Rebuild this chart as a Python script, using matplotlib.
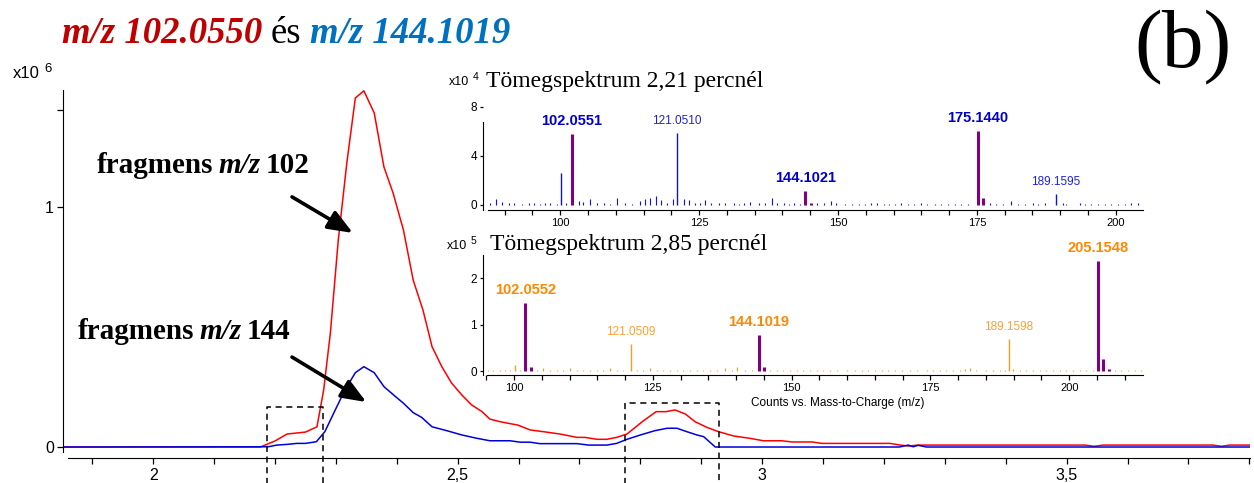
import numpy as np
import matplotlib.pyplot as plt
from matplotlib.ticker import FixedLocator

SANS = ['Liberation Sans', 'DejaVu Sans']
NARROW = ['Liberation Sans Narrow', 'Liberation Sans', 'DejaVu Sans']
SERIF = ['Liberation Serif', 'DejaVu Serif']
plt.rcParams['font.family'] = SANS

#* EIC traces, retention time (min) vs counts (x10^6)
rt_102 = [1.852, 2.176, 2.200, 2.220, 2.250, 2.269, 2.280, 2.291, 2.304, 2.318, 2.332, 2.346,
          2.363, 2.379, 2.394, 2.411, 2.427, 2.443, 2.458, 2.474, 2.490, 2.507, 2.523, 2.540,
          2.553, 2.570, 2.599, 2.619, 2.640, 2.668, 2.696, 2.709, 2.729, 2.745, 2.761, 2.778,
          2.805, 2.826, 2.842, 2.857, 2.874, 2.890, 2.909, 2.928, 2.953, 2.980, 3.002, 3.032,
          3.049, 3.082, 3.098, 3.210, 3.227, 3.240, 3.256, 3.530, 3.545, 3.560, 3.740, 3.754,
          3.768, 3.801]
eic_102 = [0, 0, 0.025, 0.054, 0.062, 0.084, 0.237, 0.474, 0.861, 1.181, 1.451, 1.481,
           1.389, 1.164, 1.056, 0.902, 0.694, 0.570, 0.417, 0.334, 0.266, 0.216, 0.175, 0.147,
           0.116, 0.105, 0.091, 0.071, 0.064, 0.054, 0.040, 0.040, 0.032, 0.032, 0.040, 0.054,
           0.109, 0.147, 0.147, 0.154, 0.137, 0.105, 0.082, 0.064, 0.046, 0.036, 0.026, 0.026,
           0.021, 0.021, 0.015, 0.015, 0.008, 0.004, 0.008, 0.008, 0.003, 0.008, 0.008, 0.003,
           0.008, 0.008]

rt_144 = [1.852, 2.189, 2.203, 2.220, 2.236, 2.250, 2.268, 2.282, 2.299, 2.315, 2.332, 2.346,
          2.363, 2.379, 2.395, 2.411, 2.427, 2.441, 2.458, 2.482, 2.507, 2.532, 2.553, 2.586,
          2.603, 2.619, 2.635, 2.696, 2.715, 2.745, 2.761, 2.778, 2.800, 2.824, 2.844, 2.860,
          2.876, 2.893, 2.904, 2.923, 3.225, 3.240, 3.248, 3.256, 3.270, 3.801]
eic_144 = [0, 0.001, 0.008, 0.011, 0.015, 0.015, 0.022, 0.064, 0.154, 0.237, 0.309, 0.334,
           0.309, 0.251, 0.216, 0.182, 0.143, 0.123, 0.084, 0.068, 0.050, 0.036, 0.026, 0.026,
           0.020, 0.020, 0.014, 0.014, 0.008, 0.008, 0.015, 0.032, 0.050, 0.068, 0.078, 0.078,
           0.064, 0.050, 0.043, 0.0, 0.0, 0.008, 0.001, 0.007, 0.0, 0.0]

rt_ticks = [2, 2.5, 3, 3.5]
rt_labels = ['2', '2,5', '3', '3,5']

#* time windows of the two spectra: (start, end, box height)
windows = [(2.187, 2.279, 0.166), (2.775, 2.929, 0.183)]

#* spectrum at 2,21 min (counts x10^4)
ms1_peak_mz = [100.07, 121.0510, 189.1595]
ms1_peak_h = [2.6, 5.9, 0.9]
ms1_frag_mz = [102.0551, 144.1021, 145.105, 175.1440, 176.147]
ms1_frag_h = [5.8, 1.15, 0.2, 6.05, 0.55]
ms1_noise_mz = [87.3, 88.5, 89.5, 90.7, 91.7, 93.1, 94.3, 95.2, 96.3, 97.3, 98.2, 99.4, 101.1,
                103.3, 104.1, 105.4, 106.6, 107.8, 109.0, 110.2, 111.7, 112.9, 114.3, 115.2,
                116.1, 117.3, 118.2, 119.3, 120.3, 122.2, 123.1, 124.3, 125.2, 126.1, 127.1,
                128.5, 129.7, 131.2, 132.1, 133.0, 134.2, 135.7, 136.9, 138.1, 139.0, 140.2,
                141.1, 142.0, 143.2, 146.2, 147.4, 148.7, 149.6, 151.3, 152.5, 153.7, 154.9,
                156.0, 157.0, 158.2, 159.1, 160.2, 161.4, 162.6, 163.7, 164.9, 166.1, 167.4,
                168.6, 169.8, 171.0, 172.2, 173.4, 177.3, 178.5, 179.7, 181.2, 182.4, 183.6,
                185.1, 186.0, 187.2, 190.5, 191.1, 193.5, 194.4, 195.6, 196.8, 198.0, 199.2,
                200.4, 201.6, 202.8, 204.0]
ms1_noise_h = [0.2, 0.45, 0.25, 0.15, 0.2, 0.1, 0.15, 0.15, 0.1, 0.15, 0.15, 0.1, 0.15,
               0.35, 0.25, 0.45, 0.2, 0.15, 0.1, 0.55, 0.15, 0.1, 0.3, 0.45,
               0.55, 0.75, 0.4, 0.15, 0.5, 0.45, 0.4, 0.15, 0.2, 0.4, 0.2,
               0.15, 0.15, 0.2, 0.1, 0.15, 0.25, 0.15, 0.15, 0.55, 0.15, 0.2,
               0.1, 0.15, 0.1, 0.2, 0.15, 0.3, 0.15, 0.1, 0.1, 0.1, 0.1,
               0.15, 0.15, 0.1, 0.1, 0.1, 0.15, 0.1, 0.1, 0.15, 0.1, 0.1,
               0.1, 0.1, 0.1, 0.1, 0.1, 0.15, 0.1, 0.1, 0.3, 0.1, 0.1,
               0.15, 0.1, 0.2, 0.2, 0.1, 0.15, 0.1, 0.1, 0.1, 0.1, 0.1,
               0.1, 0.1, 0.15, 0.15]
ms1_labels = [(102.0551, 5.8, '102.0551', True), (121.0510, 5.9, '121.0510', False),
              (144.1021, 1.15, '144.1021', True), (175.1440, 6.05, '175.1440', True),
              (189.1595, 0.9, '189.1595', False)]

#* spectrum at 2,85 min (counts x10^5)
ms2_peak_mz = [100.2, 121.0509, 189.1598]
ms2_peak_h = [0.13, 0.58, 0.69]
ms2_frag_mz = [102.0552, 103.058, 144.1019, 145.105, 205.1548, 206.158, 207.16]
ms2_frag_h = [1.46, 0.09, 0.77, 0.09, 2.37, 0.25, 0.04]
ms2_noise_mz = [95.4, 96.3, 97.4, 98.4, 99.3, 101.1, 104.1, 105.3, 106.5, 107.7, 108.9, 110.1,
                111.3, 112.5, 113.7, 114.9, 116.1, 117.3, 118.5, 119.7, 122.1, 123.3, 124.5,
                125.7, 126.9, 128.1, 129.3, 130.5, 131.7, 132.9, 134.1, 135.3, 136.5, 138.0,
                139.2, 140.2, 141.6, 142.8, 146.1, 147.3, 148.5, 149.7, 150.9, 152.1, 153.3,
                154.6, 155.7, 156.9, 158.1, 159.9, 161.4, 162.6, 163.8, 165.0, 166.2, 167.4,
                168.6, 169.8, 171.3, 172.5, 174.3, 175.5, 176.7, 177.9, 179.1, 180.3, 181.2,
                182.1, 183.3, 185.1, 186.3, 187.5, 188.4, 189.9, 191.1, 192.3, 193.5, 194.7,
                195.9, 197.1, 198.3, 199.5, 200.7, 201.9, 203.1, 204.3, 208.2, 209.4, 210.6,
                211.8, 213.0]
ms2_noise_h = [0.02, 0.02, 0.02, 0.03, 0.02, 0.02, 0.03, 0.06, 0.02, 0.02, 0.02, 0.06,
               0.02, 0.02, 0.02, 0.02, 0.02, 0.06, 0.02, 0.02, 0.02, 0.02, 0.06,
               0.02, 0.02, 0.02, 0.02, 0.02, 0.02, 0.02, 0.02, 0.02, 0.02, 0.07,
               0.02, 0.09, 0.02, 0.02, 0.02, 0.02, 0.02, 0.03, 0.02, 0.02, 0.02,
               0.02, 0.02, 0.02, 0.02, 0.02, 0.02, 0.02, 0.02, 0.02, 0.02, 0.02,
               0.02, 0.02, 0.02, 0.02, 0.02, 0.02, 0.02, 0.02, 0.02, 0.02, 0.04,
               0.07, 0.02, 0.02, 0.02, 0.02, 0.02, 0.05, 0.02, 0.02, 0.02, 0.02,
               0.02, 0.02, 0.02, 0.02, 0.02, 0.02, 0.02, 0.02, 0.02, 0.02, 0.02,
               0.02, 0.02]
ms2_labels = [(102.0552, 1.46, '102.0552', True), (121.0509, 0.58, '121.0509', False),
              (144.1019, 0.77, '144.1019', True), (189.1598, 0.69, '189.1598', False),
              (205.1548, 2.37, '205.1548', True)]

W, H = 1254, 483
fig = plt.figure(figsize=(W / 100, H / 100), dpi=100)
renderer = fig.canvas.get_renderer()


def px_axes(x0, y0, x1, y1):
    #* axes placed by pixel box (top-left origin)
    ax = fig.add_axes([x0 / W, 1 - y1 / H, (x1 - x0) / W, (y1 - y0) / H])
    ax.patch.set_alpha(0)
    ax.spines['top'].set_visible(False)
    ax.spines['right'].set_visible(False)
    return ax


def text_run(x, y, parts, size):
    #* consecutive text pieces on one baseline, x/y in pixels
    for s, color, weight, style, gap in parts:
        t = fig.text(x / W, 1 - y / H, s, color=color, fontsize=size, fontweight=weight,
                     fontstyle=style, family=SERIF, va='baseline', ha='left')
        x = t.get_window_extent(renderer).x1 + gap


# main EIC plot
ax = px_axes(63, 90, 1250, 458)
ax.plot(rt_102, eic_102, color='#ff0000', lw=1.1)
ax.plot(rt_144, eic_144, color='#0000dd', lw=1.1)
ax.set_xlim(1.852, 3.801)
ax.set_ylim(-0.0457, 1.4844)
ax.spines['left'].set_bounds(-0.02, 1.4844)
ax.spines['bottom'].set_bounds(1.860, 3.801)
ax.set_xticks(rt_ticks, rt_labels)
ax.xaxis.set_minor_locator(FixedLocator(np.arange(1.9, 3.81, 0.1)))
ax.tick_params(axis='x', which='both', length=4.5, width=0.9, pad=3)
ax.set_yticks([0, 1, 1.4], ['0', '1', ''])
ax.tick_params(axis='y', length=4.5, width=0.9, pad=2)
for lab in ax.get_xticklabels() + ax.get_yticklabels():
    lab.set_family(NARROW)
    lab.set_fontsize(11.5)

for t0, t1, top in windows:
    ax.plot([t0, t0, t1, t1], [-0.16, top, top, -0.16], color='black', lw=1.1,
            ls=(0, (4, 3)), clip_on=False)

ax.annotate('', xy=(2.328, 0.890), xytext=(2.228, 1.040),
            arrowprops=dict(arrowstyle='-|>,head_length=1.0,head_width=0.4', lw=2.6,
                            color='black', mutation_scale=15, shrinkA=0, shrinkB=0))
ax.annotate('', xy=(2.350, 0.187), xytext=(2.228, 0.374),
            arrowprops=dict(arrowstyle='-|>,head_length=1.0,head_width=0.4', lw=2.6,
                            color='black', mutation_scale=15, shrinkA=0, shrinkB=0))

fig.text(13 / W, 1 - 78 / H, 'x10', fontsize=12, va='baseline')
fig.text(44 / W, 1 - 72 / H, '6', fontsize=9.5, va='baseline')

# titles and labels
text_run(62, 43, [('m/z 102.0550', '#c00000', 'bold', 'italic', 8),
                  ('és', 'black', 'normal', 'normal', 9),
                  ('m/z 144.1019', '#0070c0', 'bold', 'italic', 0)], 26.5)
text_run(97, 173, [('fragmens', 'black', 'bold', 'normal', 5),
                   ('m/z', 'black', 'bold', 'italic', 5),
                   ('102', 'black', 'bold', 'normal', 0)], 21)
text_run(78, 339, [('fragmens', 'black', 'bold', 'normal', 5),
                   ('m/z', 'black', 'bold', 'italic', 5),
                   ('144', 'black', 'bold', 'normal', 0)], 21)
fig.text(1183 / W, 1 - 48 / H, '(b)', fontsize=60, family=SERIF, ha='center', va='center')


def draw_spectrum(axs, noise_mz, noise_h, peak_mz, peak_h, frag_mz, frag_h, labels,
                  line_col, bold_col, reg_col):
    axs.vlines(noise_mz, 0, noise_h, color=line_col, lw=0.8)
    axs.vlines(peak_mz, 0, peak_h, color=line_col, lw=1.0)
    axs.vlines(frag_mz, 0, frag_h, color='#800080', lw=2.2)
    for mz, h, txt, bold in labels:
        axs.annotate(txt, xy=(mz, h), xytext=(0, 6.5), textcoords='offset points',
                     ha='center', va='baseline',
                     fontsize=10.5 if bold else 8.5,
                     fontweight='bold' if bold else 'normal',
                     color=bold_col if bold else reg_col)
    axs.tick_params(axis='x', which='both', length=3.5, width=0.9, pad=2, labelsize=8)
    axs.tick_params(axis='y', length=2.5, width=0.9, pad=2, labelsize=8.5)


# spectrum at 2,21 min
ax1 = px_axes(483.3, 100, 1143, 210)
draw_spectrum(ax1, ms1_noise_mz, ms1_noise_h, ms1_peak_mz, ms1_peak_h, ms1_frag_mz,
              ms1_frag_h, ms1_labels, '#1010e0', '#0000cc', '#2020e0')
ax1.set_xlim(86.15, 204.9)
ax1.set_ylim(-0.41, 8.57)
ax1.set_xticks([100, 125, 150, 175, 200])
ax1.xaxis.set_minor_locator(FixedLocator(np.arange(90, 201, 5)))
ax1.set_yticks([0, 4, 8])
ax1.spines['left'].set_bounds(-0.41, 6.8)
ax1.spines['bottom'].set_bounds(87, 204.9)
fig.text(449 / W, 1 - 85 / H, 'x10', fontsize=9, va='baseline')
fig.text(473 / W, 1 - 80 / H, '4', fontsize=7.5, va='baseline')
fig.text(486 / W, 1 - 87 / H, 'Tömegspektrum 2,21 percnél', fontsize=17, family=SERIF,
         va='baseline')

# spectrum at 2,85 min
ax2 = px_axes(483.3, 255, 1142.7, 375)
draw_spectrum(ax2, ms2_noise_mz, ms2_noise_h, ms2_peak_mz, ms2_peak_h, ms2_frag_mz,
              ms2_frag_h, ms2_labels, '#ff9a20', '#ff8800', '#ffa030')
ax2.set_xlim(94.47, 213.24)
ax2.set_ylim(-0.086, 2.505)
ax2.set_xticks([100, 125, 150, 175, 200])
ax2.xaxis.set_minor_locator(FixedLocator(np.arange(95, 211, 5)))
ax2.set_yticks([0, 1, 2])
ax2.spines['bottom'].set_bounds(95.1, 213.24)
fig.text(447 / W, 1 - 249 / H, 'x10', fontsize=9, va='baseline')
fig.text(471 / W, 1 - 244 / H, '5', fontsize=7.5, va='baseline')
fig.text(490 / W, 1 - 250 / H, 'Tömegspektrum 2,85 percnél', fontsize=17, family=SERIF,
         va='baseline')
fig.text(838 / W, 1 - 403 / H, 'Counts vs. Mass-to-Charge (m/z)', fontsize=8.5,
         ha='center', va='center')

fig.savefig('out.png', dpi=100)
